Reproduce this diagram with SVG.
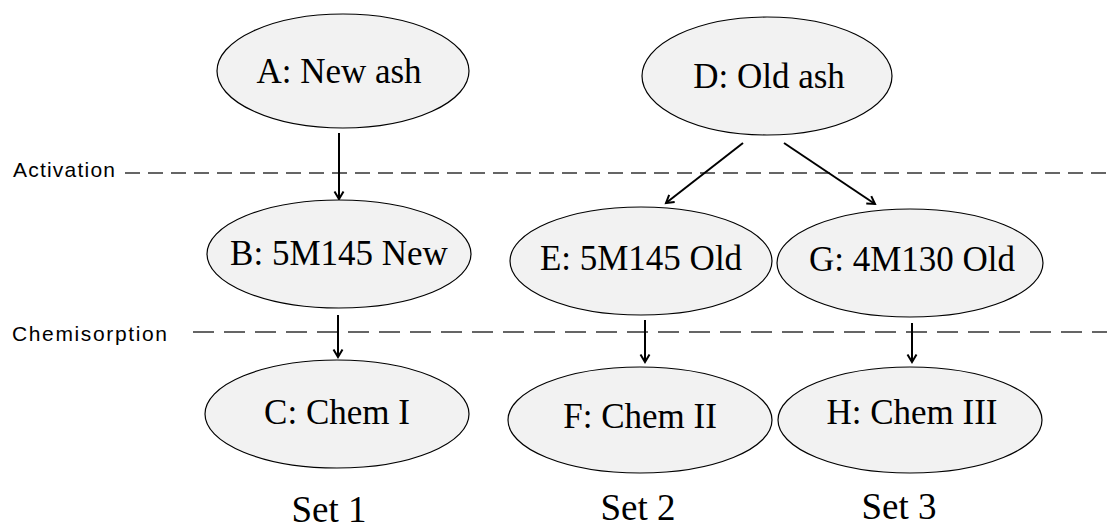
<svg xmlns="http://www.w3.org/2000/svg" width="1107" height="529" viewBox="0 0 1107 529">
<style>
.node ellipse{fill:#f2f2f2;stroke:#000;stroke-width:1.2}
.node text{font-family:"Liberation Serif","Times New Roman",serif;font-size:35px;fill:#000;text-anchor:middle}
.set{font-family:"Liberation Serif","Times New Roman",serif;font-size:37px;fill:#000;text-anchor:middle}
.lbl{font-family:"Liberation Sans",Arial,sans-serif;font-size:21px;fill:#000}
.dash{stroke:#333;stroke-width:1.6;fill:none}
.conn line{stroke:#000;stroke-width:2;marker-end:url(#ah)}
</style>
<defs>
<marker id="ah" markerUnits="userSpaceOnUse" markerWidth="14" markerHeight="14" refX="9" refY="6" orient="auto">
<path d="M1.5,1.5 L9,6 L1.5,10.5" fill="none" stroke="#000" stroke-width="2"/>
</marker>
</defs>
<rect width="1107" height="529" fill="#fff"/>
<g id="guides">
<text class="lbl" x="13" y="177" textLength="102" lengthAdjust="spacing">Activation</text>
<line class="dash" x1="125" y1="173" x2="1107" y2="173" stroke-dasharray="15 8"/>
<text class="lbl" x="12" y="341" textLength="155" lengthAdjust="spacing">Chemisorption</text>
<line class="dash" x1="193" y1="332" x2="1107" y2="332" stroke-dasharray="21 10"/>
</g>
<g id="connectors" class="conn">
<line x1="339" y1="133" x2="339" y2="199"/>
<line x1="743" y1="143" x2="666" y2="203"/>
<line x1="784" y1="143" x2="875" y2="204"/>
<line x1="338" y1="315" x2="338" y2="357"/>
<line x1="645" y1="320" x2="645" y2="362"/>
<line x1="912" y1="323" x2="912" y2="362"/>
</g>
<g id="A" class="node"><ellipse cx="343" cy="71" rx="126" ry="57"/><text x="339" y="83">A: New ash</text></g>
<g id="D" class="node"><ellipse cx="767" cy="76" rx="125" ry="59"/><text x="769" y="88">D: Old ash</text></g>
<g id="B" class="node"><ellipse cx="339" cy="254" rx="132" ry="54"/><text x="339" y="265">B: 5M145 New</text></g>
<g id="E" class="node"><ellipse cx="641" cy="261" rx="131" ry="54"/><text x="641" y="270">E: 5M145 Old</text></g>
<g id="G" class="node"><ellipse cx="910" cy="263" rx="133" ry="54"/><text x="912" y="271">G: 4M130 Old</text></g>
<g id="C" class="node"><ellipse cx="337" cy="414" rx="132" ry="54"/><text x="337" y="424">C: Chem I</text></g>
<g id="F" class="node"><ellipse cx="640" cy="420" rx="132" ry="53"/><text x="640" y="428">F: Chem II</text></g>
<g id="H" class="node"><ellipse cx="910" cy="420" rx="132" ry="53"/><text x="912" y="424">H: Chem III</text></g>
<text class="set" x="329" y="522">Set 1</text>
<text class="set" x="638" y="520">Set 2</text>
<text class="set" x="899" y="519">Set 3</text>
</svg>
